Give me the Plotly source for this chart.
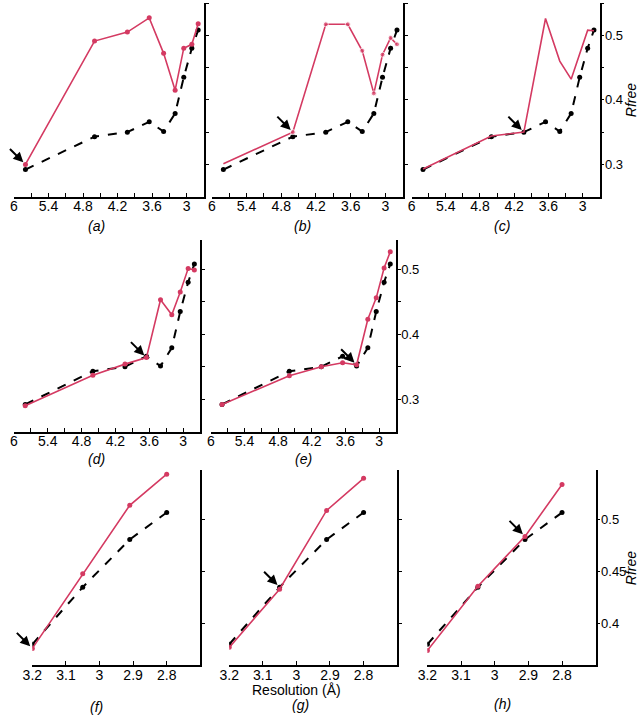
import plotly.graph_objects as go

# ---------------- data ----------------
RES = [5.8, 4.6, 4.03, 3.65, 3.4, 3.2, 3.05, 2.91, 2.8]
RES_C = [5.8, 4.6, 4.03, 3.65, 3.4, 3.2, 2.91, 2.8]
RES_ZOOM = [3.2, 3.05, 2.91, 2.8]

black_full = [0.292, 0.343, 0.350, 0.366, 0.351, 0.379, 0.435, 0.480, 0.508]
black_zoom = [0.380, 0.435, 0.481, 0.507]

red_a = [0.300, 0.491, 0.505, 0.527, 0.472, 0.415, 0.480, 0.486, 0.518]
red_b = [0.301, 0.350, 0.517, 0.517, 0.476, 0.410, 0.470, 0.496, 0.486]
red_c = [0.293, 0.344, 0.350, 0.526, 0.460, 0.432, 0.508, 0.507]
red_d = [0.290, 0.337, 0.354, 0.364, 0.453, 0.430, 0.465, 0.501, 0.499]
red_e = [0.292, 0.336, 0.350, 0.356, 0.353, 0.423, 0.456, 0.502, 0.527]
red_f = [0.376, 0.448, 0.514, 0.544]
red_g = [0.377, 0.433, 0.509, 0.540]
red_h = [0.374, 0.436, 0.484, 0.534]

arrow_pts = {"a": (5.8, 0.300), "b": (4.6, 0.350), "c": (4.03, 0.350),
             "d": (3.65, 0.364), "e": (3.4, 0.353), "f": (3.2, 0.376),
             "g": (3.05, 0.435), "h": (2.91, 0.484)}

top_xticks = [6.0, 5.7, 5.4, 5.1, 4.8, 4.5, 4.2, 3.9, 3.6, 3.3, 3.0]
top_xtext = ["6", "", "5.4", "", "4.8", "", "4.2", "", "3.6", "", "3"]
zoom_xticks = [3.2, 3.1, 3.0, 2.9, 2.8]
zoom_xtext = ["3.2", "3.1", "3", "2.9", "2.8"]
top_yticks = [0.3, 0.35, 0.4, 0.45, 0.5, 0.55]
top_ytext = ["0.3", "", "0.4", "", "0.5", ""]
zoom_yticks = [0.4, 0.45, 0.5]
zoom_ytext = ["0.4", "0.45", "0.5"]

W, H = 640, 719
RED = "#d43a62"

def px(x):
    return x / W

def py(y):
    return 1 - y / H

# panel: key, x px domain, y px domain (top, bottom), xrange, yrange, red x, red y, kind, show y labels, red markers
panels = [
    ("a", (4, 197), (3, 196.7), [6.0, 2.7], [0.25, 0.55], RES, red_a, "top", False, True),
    ("b", (205, 399), (3, 196.7), [6.0, 2.7], [0.25, 0.55], RES, red_b, "top", False, True),
    ("c", (408, 599), (3, 196.7), [6.0, 2.7], [0.25, 0.55], RES_C, red_c, "top", True, False),
    ("d", (4, 193), (240, 431.7), [6.0, 2.7], [0.25, 0.545], RES, red_d, "top", False, True),
    ("e", (204, 392), (240, 431.7), [6.0, 2.7], [0.25, 0.545], RES, red_e, "top", True, True),
    ("f", (22.7, 193.3), (470, 665), [3.2, 2.7], [0.36, 0.548], RES_ZOOM, red_f, "zoom", False, True),
    ("g", (222.7, 393.3), (470, 665), [3.2, 2.7], [0.36, 0.548], RES_ZOOM, red_g, "zoom", False, True),
    ("h", (424, 595), (470, 665), [3.2, 2.7], [0.36, 0.548], RES_ZOOM, red_h, "zoom", True, True),
]

fig = go.Figure()
annotations = []
FAM = "Liberation Sans, Arial, sans-serif"
font = dict(family=FAM, size=14, color="black")
yfont = dict(family=FAM, size=13, color="black")

for i, (key, xd, yd, xr, yr, rx, ry, kind, ylab, rmark) in enumerate(panels, start=1):
    xa = "x" if i == 1 else f"x{i}"
    ya = "y" if i == 1 else f"y{i}"
    bx = RES if kind == "top" else RES_ZOOM
    by = black_full if kind == "top" else black_zoom
    fig.add_trace(go.Scatter(x=bx, y=by, mode="lines+markers", xaxis=xa, yaxis=ya,
                             line=dict(color="black", width=2, dash="dash"),
                             marker=dict(color="black", size=5), showlegend=False))
    if key == "b":
        msize = [0] + [5] * (len(rx) - 1)
    else:
        msize = 5
    fig.add_trace(go.Scatter(x=rx, y=ry, mode="lines+markers" if rmark else "lines",
                             xaxis=xa, yaxis=ya,
                             line=dict(color=RED, width=1.6),
                             marker=dict(color=RED, size=msize), showlegend=False))
    xkey = "xaxis" if i == 1 else f"xaxis{i}"
    ykey = "yaxis" if i == 1 else f"yaxis{i}"
    yt = top_yticks if kind == "top" else zoom_yticks
    ytt = top_ytext if kind == "top" else zoom_ytext
    fig.update_layout({
        xkey: dict(domain=[px(xd[0]), px(xd[1])], range=xr, anchor=ya,
                   showline=True, linecolor="black", linewidth=1.5,
                   ticks="inside", ticklen=4, tickwidth=1, tickcolor="black",
                   tickvals=top_xticks if kind == "top" else zoom_xticks,
                   ticktext=top_xtext if kind == "top" else zoom_xtext,
                   ticklabelstandoff=-4,
                   tickfont=font, showgrid=False, zeroline=False, mirror=False),
        ykey: dict(domain=[py(yd[1]), py(yd[0])], range=yr, anchor=xa, side="right",
                   showline=True, linecolor="black", linewidth=1.5,
                   ticks="outside", ticklen=3, tickwidth=1, tickcolor="black",
                   tickvals=yt, ticktext=ytt if ylab else [""] * len(yt),
                   ticklabelstandoff=-2,
                   tickfont=yfont, showgrid=False, zeroline=False),
    })
    ax_, ay_ = arrow_pts[key]
    annotations.append(dict(x=ax_, y=ay_, xref=xa, yref=ya, ax=-17, ay=-17,
                            showarrow=True, arrowhead=2, arrowsize=1, arrowwidth=2,
                            arrowcolor="black", standoff=3, text=""))

# captions
captions = [("(a)", 88, 226), ("(b)", 297, 226), ("(c)", 500, 226),
            ("(d)", 88, 459), ("(e)", 298, 459),
            ("(f)", 88, 707), ("(g)", 295, 705), ("(h)", 500, 704)]
for t, x, y in captions:
    annotations.append(dict(x=px(x), y=py(y), xref="paper", yref="paper", showarrow=False,
                            text=f"<i>{t}</i>", font=font, xanchor="center", yanchor="middle"))

annotations.append(dict(x=px(291), y=py(690), xref="paper", yref="paper", showarrow=False,
                        text="Resolution (Å)", font=font, xanchor="center", yanchor="middle"))
for yy in (100, 568):
    annotations.append(dict(x=px(631), y=py(yy), xref="paper", yref="paper", showarrow=False,
                            text="<i>Rfree</i>", textangle=-90,
                            font=dict(family=FAM, size=14, color="black"),
                            xanchor="center", yanchor="middle"))

fig.update_layout(width=W, height=H, margin=dict(l=0, r=0, t=0, b=0),
                  paper_bgcolor="white", plot_bgcolor="white",
                  annotations=annotations, showlegend=False)

fig.write_html("out.html", config={"displayModeBar": False},
               post_script="document.body.style.margin='0px';document.body.style.overflow='hidden';")
